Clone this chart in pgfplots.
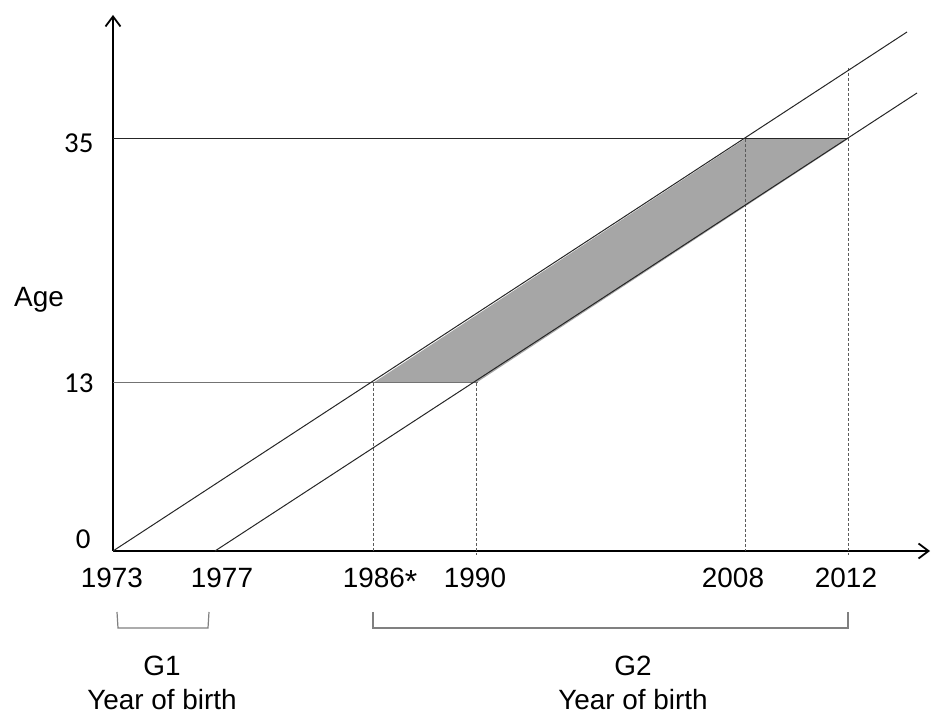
\documentclass[border=0pt]{standalone}
\usepackage{pgfplots}
\pgfplotsset{compat=1.18}
\usetikzlibrary{arrows.meta}
\usepackage{fontspec}
\setmainfont{Liberation Sans}
\newfontfamily\calfont{Carlito}
\definecolor{bandgray}{HTML}{A6A6A6}
\definecolor{dashgray}{HTML}{5A5A5A}
\definecolor{brgray}{HTML}{808080}
\begin{document}
\begin{tikzpicture}
\begin{axis}[
  x=1bp, y=1bp,
  xmin=113, xmax=930, ymin=164, ymax=700,
  axis lines=left,
  axis line style={line width=2bp, -{Straight Barb[length=10bp,width=15bp,line width=1.8bp]}},
  xtick=\empty, ytick=\empty,
  clip=false,
  every node/.style={inner sep=0pt},
]
% picture frame (bounding box)
\path (axis cs:0,0) rectangle (axis cs:932,715);
% shaded band
\addplot[fill=bandgray, draw=none] coordinates {(373,332) (476,332) (848,576) (745,576)} -- cycle;
% horizontal reference lines
\addplot[black!85, line width=1bp] coordinates {(113,576) (848,576)};
\addplot[black!55, line width=1bp] coordinates {(113,332) (478,332)};
% dashed verticals
\addplot[dashgray, line width=1bp, dash pattern=on 3bp off 2bp] coordinates {(373,332) (373,163)};
\addplot[dashgray, line width=1bp, dash pattern=on 3bp off 2bp] coordinates {(476,332) (476,160)};
\addplot[dashgray, line width=1bp, dash pattern=on 3bp off 2bp] coordinates {(745,576) (745,164)};
\addplot[dashgray, line width=1bp, dash pattern=on 3bp off 2bp] coordinates {(848,647) (848,160)};
% cohort lines
\addplot[black!85, line width=1bp] coordinates {(113,164) (907,683)};
\addplot[black!85, line width=1bp] coordinates {(215,164) (917,622)};
% brackets
\addplot[brgray, line width=1.2bp] coordinates {(117,103) (118,87) (208,87) (209,103)};
\addplot[brgray, line width=1.2bp] coordinates {(373,103) (373,87) (848,87) (848,103)};
% y labels
\node[anchor=base east, font=\calfont\fontsize{29}{30}\selectfont] at (axis cs:97,562) {35};
\node[anchor=base east, font=\calfont\fontsize{29}{30}\selectfont] at (axis cs:97,322) {13};
\node[anchor=base east, font=\calfont\fontsize{29}{30}\selectfont] at (axis cs:94,166) {0};
\node[anchor=base, font=\fontsize{28}{30}\selectfont] at (axis cs:39,408) {Age};
% x labels
\node[anchor=base, font=\fontsize{28}{30}\selectfont] at (axis cs:112,127) {1973};
\node[anchor=base, font=\fontsize{28}{30}\selectfont] at (axis cs:222,127) {1977};
\node[anchor=base, font=\fontsize{28}{30}\selectfont] at (axis cs:380,127) {1986\raisebox{-0.15em}{\fontsize{32}{32}\selectfont *}};
\node[anchor=base, font=\fontsize{28}{30}\selectfont] at (axis cs:475,127) {1990};
\node[anchor=base, font=\fontsize{28}{30}\selectfont] at (axis cs:733,127) {2008};
\node[anchor=base, font=\fontsize{28}{30}\selectfont] at (axis cs:846,127) {2012};
% group labels
\node[anchor=base, font=\fontsize{28}{30}\selectfont] at (axis cs:162,40) {G1};
\node[anchor=base, font=\fontsize{28}{30}\selectfont] at (axis cs:162,6) {Year of birth};
\node[anchor=base, font=\fontsize{28}{30}\selectfont] at (axis cs:633,40) {G2};
\node[anchor=base, font=\fontsize{28}{30}\selectfont] at (axis cs:633,6) {Year of birth};
\end{axis}
\end{tikzpicture}
\end{document}
